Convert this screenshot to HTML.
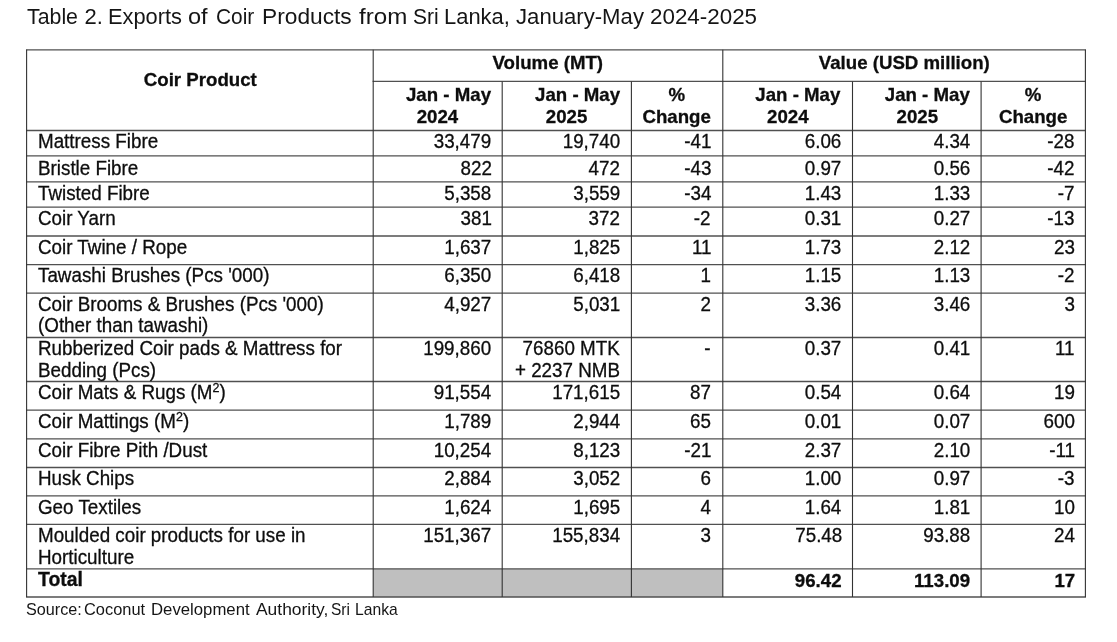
<!DOCTYPE html>
<html lang="en"><head><meta charset="utf-8"><title>Table 2. Exports of Coir Products from Sri Lanka</title>
<style>
html,body{margin:0;padding:0;background:#fff;}
body{width:1117px;height:642px;position:relative;overflow:hidden;font-family:"Liberation Sans",Arial,sans-serif;color:#0d0d0d;}
.t{position:absolute;white-space:nowrap;line-height:22.0px;height:22.0px;font-size:19.7px;transform:scaleX(0.955);-webkit-text-stroke:0.3px #0d0d0d;}
.l{text-align:left;transform-origin:0 0;}
.r{text-align:right;transform-origin:100% 0;}
.c{text-align:center;transform-origin:50% 0;}
.b{font-weight:bold;font-size:19px;-webkit-text-stroke:0.3px #0d0d0d;transform:scaleX(0.982);}
.title{position:absolute;left:0;top:3px;width:1117px;height:28px;font-size:22px;line-height:28px;white-space:nowrap;color:#151515;}
.w{position:absolute;top:0;transform-origin:0 0;display:block;}
.src{position:absolute;left:0;top:598.2px;width:1117px;height:22px;font-size:16.2px;line-height:22px;white-space:nowrap;color:#151515;}
sup{font-size:66.6%;line-height:0;vertical-align:baseline;position:relative;top:-0.53em;}
svg{position:absolute;left:0;top:0;}
</style></head><body>
<div class="title"><span class="w" id="title0" style="left:27.01px;transform:scaleX(0.9692)">Table</span> <span class="w" id="title1" style="left:84.50px;transform:scaleX(1.0000)">2.</span> <span class="w" id="title2" style="left:107.51px;transform:scaleX(0.9917)">Exports</span> <span class="w" id="title3" style="left:188.39px;transform:scaleX(1.0714)">of</span> <span class="w" id="title4" style="left:216.07px;transform:scaleX(0.9489)">Coir</span> <span class="w" id="title5" style="left:261.94px;transform:scaleX(1.0333)">Products</span> <span class="w" id="title6" style="left:359.03px;transform:scaleX(1.0979)">from</span> <span class="w" id="title7" style="left:413.03px;transform:scaleX(0.9541)">Sri</span> <span class="w" id="title8" style="left:443.98px;transform:scaleX(0.9971)">Lanka,</span> <span class="w" id="title9" style="left:515.50px;transform:scaleX(1.0062)">January-May</span> <span class="w" id="title10" style="left:649.99px;transform:scaleX(1.0174)">2024-2025</span></div>
<svg width="1117" height="642" viewBox="0 0 1117 642">
<rect x="373.2" y="568.9" width="349.6" height="28.1" fill="#bfbfbf"/>
<g stroke="#505050" stroke-width="1.3" fill="none">
<line x1="26.0" y1="49.8" x2="1086.0" y2="49.8"/>
<line x1="372.6" y1="81.4" x2="1086.0" y2="81.4"/>
<line x1="26.0" y1="130.5" x2="1086.0" y2="130.5"/>
<line x1="26.0" y1="155.9" x2="1086.0" y2="155.9"/>
<line x1="26.0" y1="181.8" x2="1086.0" y2="181.8"/>
<line x1="26.0" y1="207.2" x2="1086.0" y2="207.2"/>
<line x1="26.0" y1="236.0" x2="1086.0" y2="236.0"/>
<line x1="26.0" y1="264.6" x2="1086.0" y2="264.6"/>
<line x1="26.0" y1="293.2" x2="1086.0" y2="293.2"/>
<line x1="26.0" y1="337.5" x2="1086.0" y2="337.5"/>
<line x1="26.0" y1="381.5" x2="1086.0" y2="381.5"/>
<line x1="26.0" y1="410.2" x2="1086.0" y2="410.2"/>
<line x1="26.0" y1="438.9" x2="1086.0" y2="438.9"/>
<line x1="26.0" y1="467.5" x2="1086.0" y2="467.5"/>
<line x1="26.0" y1="495.9" x2="1086.0" y2="495.9"/>
<line x1="26.0" y1="524.3" x2="1086.0" y2="524.3"/>
<line x1="26.0" y1="568.9" x2="1086.0" y2="568.9"/>
<line x1="26.0" y1="597.0" x2="1086.0" y2="597.0"/>
</g><g stroke="#333" stroke-width="1.1" fill="none">
<line x1="26.6" y1="49.8" x2="26.6" y2="597.0"/>
<line x1="373.2" y1="49.8" x2="373.2" y2="597.0"/>
<line x1="502.2" y1="81.4" x2="502.2" y2="597.0"/>
<line x1="631.4" y1="81.4" x2="631.4" y2="597.0"/>
<line x1="722.8" y1="49.8" x2="722.8" y2="597.0"/>
<line x1="852.5" y1="81.4" x2="852.5" y2="597.0"/>
<line x1="981.1" y1="81.4" x2="981.1" y2="597.0"/>
<line x1="1085.4" y1="49.8" x2="1085.4" y2="597.0"/>
</g></svg>
<div class="t c b" style="left:26.6px;width:346.6px;top:69.10px;">Coir Product</div>
<div class="t c b" style="left:373.2px;width:349.6px;top:52.10px;">Volume (MT)</div>
<div class="t c b" style="left:722.8px;width:362.6px;top:52.10px;">Value (USD million)</div>
<div class="t c b" style="left:383.7px;width:129.0px;top:84.10px;">Jan - May</div>
<div class="t c b" style="left:373.2px;width:129.0px;top:106.10px;">2024</div>
<div class="t c b" style="left:512.7px;width:129.2px;top:84.10px;">Jan - May</div>
<div class="t c b" style="left:502.2px;width:129.2px;top:106.10px;">2025</div>
<div class="t c b" style="left:631.4px;width:91.4px;top:84.10px;">%</div>
<div class="t c b" style="left:631.4px;width:91.4px;top:106.10px;">Change</div>
<div class="t c b" style="left:733.3px;width:129.7px;top:84.10px;">Jan - May</div>
<div class="t c b" style="left:722.8px;width:129.7px;top:106.10px;">2024</div>
<div class="t c b" style="left:863.0px;width:128.6px;top:84.10px;">Jan - May</div>
<div class="t c b" style="left:852.5px;width:128.6px;top:106.10px;">2025</div>
<div class="t c b" style="left:981.1px;width:104.3px;top:84.10px;">%</div>
<div class="t c b" style="left:981.1px;width:104.3px;top:106.10px;">Change</div>
<div class="t l" style="left:38.2px;top:130.10px;">Mattress Fibre</div>
<div class="t r" style="right:625.5px;top:130.10px;">33,479</div>
<div class="t r" style="right:497.0px;top:130.10px;">19,740</div>
<div class="t r" style="right:406.0px;top:130.10px;">-41</div>
<div class="t r" style="right:275.2px;top:130.10px;">6.06</div>
<div class="t r" style="right:147.1px;top:130.10px;">4.34</div>
<div class="t r" style="right:42.3px;top:130.10px;">-28</div>
<div class="t l" style="left:38.2px;top:157.10px;">Bristle Fibre</div>
<div class="t r" style="right:625.5px;top:157.10px;">822</div>
<div class="t r" style="right:497.0px;top:157.10px;">472</div>
<div class="t r" style="right:406.0px;top:157.10px;">-43</div>
<div class="t r" style="right:275.2px;top:157.10px;">0.97</div>
<div class="t r" style="right:147.1px;top:157.10px;">0.56</div>
<div class="t r" style="right:42.3px;top:157.10px;">-42</div>
<div class="t l" style="left:38.2px;top:182.10px;">Twisted Fibre</div>
<div class="t r" style="right:625.5px;top:182.10px;">5,358</div>
<div class="t r" style="right:497.0px;top:182.10px;">3,559</div>
<div class="t r" style="right:406.0px;top:182.10px;">-34</div>
<div class="t r" style="right:275.2px;top:182.10px;">1.43</div>
<div class="t r" style="right:147.1px;top:182.10px;">1.33</div>
<div class="t r" style="right:42.3px;top:182.10px;">-7</div>
<div class="t l" style="left:38.2px;top:207.10px;">Coir Yarn</div>
<div class="t r" style="right:625.5px;top:207.10px;">381</div>
<div class="t r" style="right:497.0px;top:207.10px;">372</div>
<div class="t r" style="right:406.0px;top:207.10px;">-2</div>
<div class="t r" style="right:275.2px;top:207.10px;">0.31</div>
<div class="t r" style="right:147.1px;top:207.10px;">0.27</div>
<div class="t r" style="right:42.3px;top:207.10px;">-13</div>
<div class="t l" style="left:38.2px;top:236.10px;">Coir Twine / Rope</div>
<div class="t r" style="right:625.5px;top:236.10px;">1,637</div>
<div class="t r" style="right:497.0px;top:236.10px;">1,825</div>
<div class="t r" style="right:406.0px;top:236.10px;">11</div>
<div class="t r" style="right:275.2px;top:236.10px;">1.73</div>
<div class="t r" style="right:147.1px;top:236.10px;">2.12</div>
<div class="t r" style="right:42.3px;top:236.10px;">23</div>
<div class="t l" style="left:38.2px;top:264.10px;">Tawashi Brushes (Pcs '000)</div>
<div class="t r" style="right:625.5px;top:264.10px;">6,350</div>
<div class="t r" style="right:497.0px;top:264.10px;">6,418</div>
<div class="t r" style="right:406.0px;top:264.10px;">1</div>
<div class="t r" style="right:275.2px;top:264.10px;">1.15</div>
<div class="t r" style="right:147.1px;top:264.10px;">1.13</div>
<div class="t r" style="right:42.3px;top:264.10px;">-2</div>
<div class="t l" style="left:38.2px;top:293.10px;">Coir Brooms &amp; Brushes (Pcs '000)</div>
<div class="t l" style="left:38.2px;top:314.10px;">(Other than tawashi)</div>
<div class="t r" style="right:625.5px;top:293.10px;">4,927</div>
<div class="t r" style="right:497.0px;top:293.10px;">5,031</div>
<div class="t r" style="right:406.0px;top:293.10px;">2</div>
<div class="t r" style="right:275.2px;top:293.10px;">3.36</div>
<div class="t r" style="right:147.1px;top:293.10px;">3.46</div>
<div class="t r" style="right:42.3px;top:293.10px;">3</div>
<div class="t l" style="left:38.2px;top:337.10px;">Rubberized Coir pads &amp; Mattress for</div>
<div class="t l" style="left:38.2px;top:359.10px;">Bedding (Pcs)</div>
<div class="t r" style="right:625.5px;top:337.10px;">199,860</div>
<div class="t r" style="right:497.0px;top:337.10px;">76860 MTK</div>
<div class="t r" style="right:497.0px;top:359.10px;">+ 2237 NMB</div>
<div class="t r" style="right:406.0px;top:337.10px;">-</div>
<div class="t r" style="right:275.2px;top:337.10px;">0.37</div>
<div class="t r" style="right:147.1px;top:337.10px;">0.41</div>
<div class="t r" style="right:42.3px;top:337.10px;">11</div>
<div class="t l" style="left:38.2px;top:381.10px;">Coir Mats &amp; Rugs (M<sup>2</sup>)</div>
<div class="t r" style="right:625.5px;top:381.10px;">91,554</div>
<div class="t r" style="right:497.0px;top:381.10px;">171,615</div>
<div class="t r" style="right:406.0px;top:381.10px;">87</div>
<div class="t r" style="right:275.2px;top:381.10px;">0.54</div>
<div class="t r" style="right:147.1px;top:381.10px;">0.64</div>
<div class="t r" style="right:42.3px;top:381.10px;">19</div>
<div class="t l" style="left:38.2px;top:410.10px;">Coir Mattings (M<sup>2</sup>)</div>
<div class="t r" style="right:625.5px;top:410.10px;">1,789</div>
<div class="t r" style="right:497.0px;top:410.10px;">2,944</div>
<div class="t r" style="right:406.0px;top:410.10px;">65</div>
<div class="t r" style="right:275.2px;top:410.10px;">0.01</div>
<div class="t r" style="right:147.1px;top:410.10px;">0.07</div>
<div class="t r" style="right:42.3px;top:410.10px;">600</div>
<div class="t l" style="left:38.2px;top:439.10px;">Coir Fibre Pith /Dust</div>
<div class="t r" style="right:625.5px;top:439.10px;">10,254</div>
<div class="t r" style="right:497.0px;top:439.10px;">8,123</div>
<div class="t r" style="right:406.0px;top:439.10px;">-21</div>
<div class="t r" style="right:275.2px;top:439.10px;">2.37</div>
<div class="t r" style="right:147.1px;top:439.10px;">2.10</div>
<div class="t r" style="right:42.3px;top:439.10px;">-11</div>
<div class="t l" style="left:38.2px;top:467.10px;">Husk Chips</div>
<div class="t r" style="right:625.5px;top:467.10px;">2,884</div>
<div class="t r" style="right:497.0px;top:467.10px;">3,052</div>
<div class="t r" style="right:406.0px;top:467.10px;">6</div>
<div class="t r" style="right:275.2px;top:467.10px;">1.00</div>
<div class="t r" style="right:147.1px;top:467.10px;">0.97</div>
<div class="t r" style="right:42.3px;top:467.10px;">-3</div>
<div class="t l" style="left:38.2px;top:496.10px;">Geo Textiles</div>
<div class="t r" style="right:625.5px;top:496.10px;">1,624</div>
<div class="t r" style="right:497.0px;top:496.10px;">1,695</div>
<div class="t r" style="right:406.0px;top:496.10px;">4</div>
<div class="t r" style="right:275.2px;top:496.10px;">1.64</div>
<div class="t r" style="right:147.1px;top:496.10px;">1.81</div>
<div class="t r" style="right:42.3px;top:496.10px;">10</div>
<div class="t l" style="left:38.2px;top:524.10px;">Moulded coir products for use in</div>
<div class="t l" style="left:38.2px;top:546.10px;">Horticulture</div>
<div class="t r" style="right:625.5px;top:524.10px;">151,367</div>
<div class="t r" style="right:497.0px;top:524.10px;">155,834</div>
<div class="t r" style="right:406.0px;top:524.10px;">3</div>
<div class="t r" style="right:275.2px;top:524.10px;">75.48</div>
<div class="t r" style="right:147.1px;top:524.10px;">93.88</div>
<div class="t r" style="right:42.3px;top:524.10px;">24</div>
<div class="t l b" style="left:38.2px;top:569.10px;font-size:19.3px;transform:scaleX(1.007);">Total</div>
<div class="t r b" style="right:275.2px;top:570.10px;">96.42</div>
<div class="t r b" style="right:147.1px;top:570.10px;">113.09</div>
<div class="t r b" style="right:42.3px;top:570.10px;">17</div>
<div class="src"><span class="w" id="src0" style="left:25.50px;transform:scaleX(1.0002)">Source:</span> <span class="w" id="src1" style="left:84.49px;transform:scaleX(1.0136)">Coconut</span> <span class="w" id="src2" style="left:150.97px;transform:scaleX(1.0341)">Development</span> <span class="w" id="src3" style="left:255.51px;transform:scaleX(1.0758)">Authority,</span> <span class="w" id="src4" style="left:331.05px;transform:scaleX(0.9567)">Sri</span> <span class="w" id="src5" style="left:354.54px;transform:scaleX(0.9676)">Lanka</span></div>
</body></html>
